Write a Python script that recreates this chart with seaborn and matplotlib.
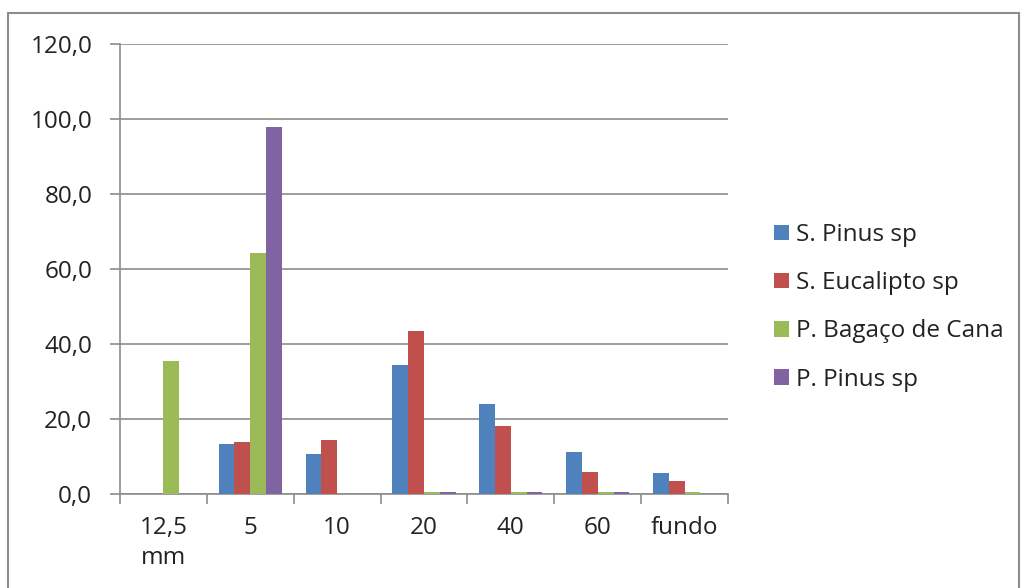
import matplotlib

matplotlib.use("Agg", force=True)
import matplotlib.pyplot as plt
import numpy as np
import pandas as pd
import seaborn as sns
from matplotlib.patches import Rectangle
from matplotlib.ticker import FixedLocator, FuncFormatter

categories = ["12,5\nmm", "5", "10", "20", "40", "60", "fundo"]
series = ["S. Pinus sp", "S. Eucalipto sp", "P. Bagaço de Cana", "P. Pinus sp"]
s_pinus = [0.0, 13.3, 10.6, 34.3, 24.0, 11.3, 5.5]
s_eucalipto = [0.0, 14.0, 14.3, 43.4, 18.1, 5.8, 3.5]
p_bagaco = [35.4, 64.2, 0.0, 0.6, 0.6, 0.6, 0.6]
p_pinus = [0.0, 98.0, 0.0, 0.6, 0.6, 0.6, 0.0]
colors = ["#4F81BD", "#C0504D", "#9BBB59", "#8064A2"]

rows = []
for name, vals in zip(series, [s_pinus, s_eucalipto, p_bagaco, p_pinus]):
    for cat, v in zip(categories, vals):
        rows.append({"peneira": cat, "serie": name, "valor": v})
df = pd.DataFrame(rows)

sns.set_theme(style="white")
plt.rcParams["font.family"] = ["Open Sans", "DejaVu Sans"]
FS = 17.5

fig = plt.figure(figsize=(10.24, 5.88), dpi=100)
ax = fig.add_axes([120 / 1024, 1 - 494 / 588, 608 / 1024, 450 / 588])

sns.barplot(data=df, x="peneira", y="valor", hue="serie", order=categories,
            hue_order=series, palette=colors, width=4 / 5.5, gap=0,
            saturation=1, edgecolor="none", ax=ax, zorder=3)

ax.set_ylim(0, 120)
ax.set_xlim(-0.5, len(categories) - 0.5)
ax.set_yticks(np.arange(0, 121, 20))
ax.yaxis.set_major_formatter(FuncFormatter(lambda v, p: f"{v:.1f}".replace(".", ",")))
ax.grid(axis="y", color="#8c8c8c", linewidth=1.2, zorder=0)
ax.set_axisbelow(True)
ax.set_xlabel("")
ax.set_ylabel("")

for side in ["top", "right"]:
    ax.spines[side].set_visible(False)
for side in ["left", "bottom"]:
    ax.spines[side].set_color("#8c8c8c")
    ax.spines[side].set_linewidth(1.2)
    ax.spines[side].set_zorder(1)

ax.tick_params(axis="y", which="major", direction="out", length=7, width=1.2,
               color="#8c8c8c", left=True, labelsize=FS, labelcolor="#222222", pad=13)
ax.tick_params(axis="x", which="major", length=0, labelsize=FS, labelcolor="#222222", pad=16)
for lbl in ax.get_xticklabels():
    lbl.set_linespacing(1.3)
ax.xaxis.set_minor_locator(FixedLocator(np.arange(-0.5, len(categories), 1.0)))
ax.tick_params(axis="x", which="minor", direction="out", length=7, width=1.2,
               color="#8c8c8c", bottom=True)

handles, labels = ax.get_legend_handles_labels()
ax.legend(handles, labels, loc="center left", bbox_to_anchor=(1.06, 0.415),
          frameon=False, fontsize=FS, handlelength=0.6, handleheight=0.6,
          handletextpad=0.3, labelspacing=1.0, labelcolor="#222222",
          borderaxespad=0)

fig.patches.append(Rectangle((8 / 1024, -0.05), 1011 / 1024, 1.05 - 13 / 588,
                             transform=fig.transFigure, fill=False,
                             edgecolor="#8c8c8c", linewidth=1.5))

fig.savefig("out.png", dpi=100)
